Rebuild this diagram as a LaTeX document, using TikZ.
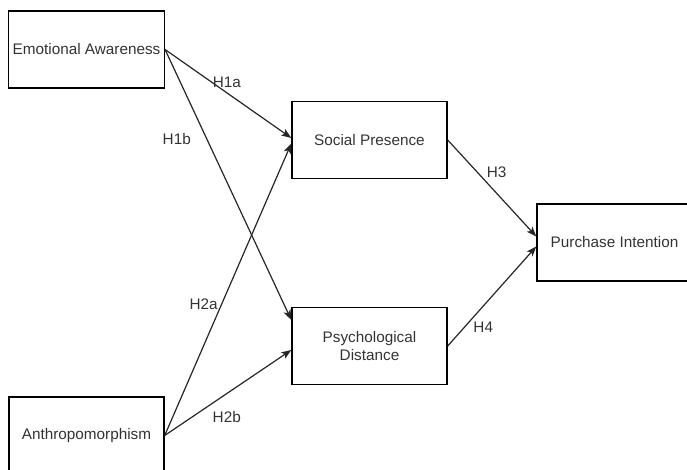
\documentclass[tikz,border=0pt]{standalone}
\usepackage{fontspec}
\setmainfont{Liberation Sans}
\usepackage{tikz}
\usetikzlibrary{arrows.meta}

\begin{document}
\begin{tikzpicture}[x=1pt,y=1pt,>={Stealth[length=10pt,width=7.5pt,inset=2.5pt]},
    font=\fontsize{15.3}{18.5}\selectfont]
    \tikzstyle{construct}=[draw, line width=1.4pt, align=center, text=black!80,
        minimum width=155pt, minimum height=77pt, inner sep=4pt]
    \tikzstyle{hyp}=[->, line width=1.2pt, black!85]
    \tikzstyle{hlabel}=[text=black!80]

    \useasboundingbox (0,0) rectangle (687,470);

    % Constructs
    \node[construct] (awareness) at (86.5,420.5) {Emotional Awareness};
    \node[construct] (anthro) at (86.5,34.5) {Anthropomorphism};
    \node[construct] (presence) at (369.5,330) {Social Presence};
    \node[construct] (distance) at (369.5,124) {Psychological\\Distance};
    \node[construct] (intention) at (614.5,227.5) {Purchase Intention};

    % Hypotheses
    \draw[hyp] (awareness.east) -- node[hlabel, above=1pt, pos=0.49] {H1a} ([yshift=2pt]presence.west);
    \draw[hyp] (awareness.east) -- node[hlabel, left=12pt, pos=0.33] {H1b} ([yshift=26pt]distance.west);
    \draw[hyp] (anthro.east) -- node[hlabel, left, pos=0.45] {H2a} ([yshift=-3.5pt]presence.west);
    \draw[hyp] (anthro.east) -- node[hlabel, below=14pt, pos=0.49] {H2b} ([yshift=-4pt]distance.west);
    \draw[hyp] (presence.east) -- node[hlabel, right=6pt, pos=0.33] {H3} ([yshift=6pt]intention.west);
    \draw[hyp] (distance.east) -- node[hlabel, right=5pt, pos=0.19] {H4} ([yshift=-4pt]intention.west);
\end{tikzpicture}
\end{document}
